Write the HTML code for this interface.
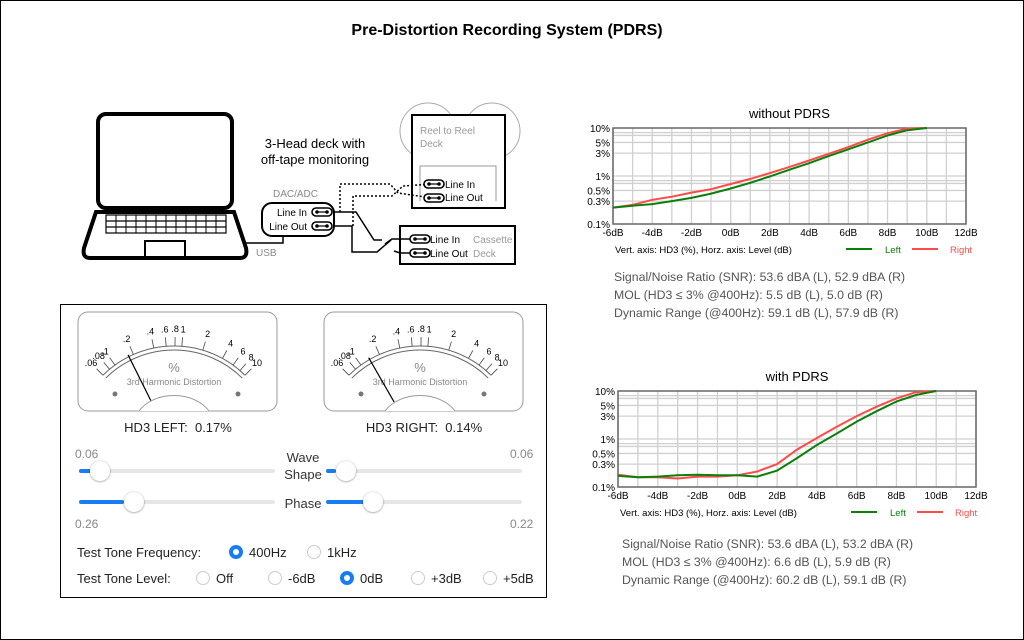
<!DOCTYPE html>
<html><head><meta charset="utf-8"><style>
*{margin:0;padding:0;box-sizing:border-box}
body{width:1024px;height:640px;overflow:hidden;background:#fff;font-family:"Liberation Sans",sans-serif;position:relative}
#frame{position:absolute;left:0;top:0;width:1024px;height:640px;border:1px solid #000}
.t{position:absolute;white-space:nowrap}
.stat{color:#555;font-size:12.3px;line-height:18px}
.panel{position:absolute;left:60px;top:304px;width:487px;height:294px;border:1px solid #000}
.track{position:absolute;height:4px;background:#e6e6e6;border-radius:2px}
.fill{position:absolute;left:0;top:0;height:4px;background:#1a7cf5;border-radius:2px}
.knob{position:absolute;width:20px;height:20px;border-radius:50%;background:#fff;box-shadow:0 0.5px 2px rgba(0,0,0,.45)}
.radio{position:absolute;width:14px;height:14px;border-radius:50%;border:1px solid #ccc;background:#fff}
.radio.on{border:4px solid #1a7cf5}
.lbl{font-size:13px;color:#222}
</style></head><body>
<div id="frame"></div>
<div class="t" style="left:0;width:1014px;top:22px;text-align:center;font-weight:bold;font-size:16px">Pre-Distortion Recording System (PDRS)</div>

<svg width="1024" height="640" style="position:absolute;left:0;top:0" id="svg">
<rect x="98" y="114" width="134" height="94" rx="8" fill="none" stroke="#000" stroke-width="4"/>
<path d="M96 212 L234 212 L246 248 Q248 258 240 258 L90 258 Q82 258 84 248 Z" fill="none" stroke="#000" stroke-width="4"/>
<g stroke="#000" stroke-width="1.2" fill="none">
<rect x="106" y="215" width="120" height="18"/>
<line x1="106" y1="221" x2="226" y2="221"/><line x1="106" y1="227" x2="226" y2="227"/>
</g>
<g id="kb" stroke="#000" stroke-width="1"></g>
<rect x="145" y="241" width="40" height="17" fill="none" stroke="#000" stroke-width="2"/>
<polyline points="245,243 283,243 283,236" fill="none" stroke="#000" stroke-width="1.5"/>
<text x="256" y="256" font-size="10" fill="#888" font-family="Liberation Sans">USB</text>
<rect x="262" y="203" width="72" height="33" rx="10" fill="none" stroke="#000" stroke-width="2"/>
<text x="273" y="197" font-size="10" fill="#888" font-family="Liberation Sans">DAC/ADC</text>
<text x="307" y="216" font-size="10" text-anchor="end" font-family="Liberation Sans">Line In</text>
<text x="307" y="230" font-size="10" text-anchor="end" font-family="Liberation Sans">Line Out</text>
<text x="315" y="148" font-size="13" text-anchor="middle" font-family="Liberation Sans">3-Head deck with</text>
<text x="315" y="164" font-size="13" text-anchor="middle" font-family="Liberation Sans">off-tape monitoring</text>
<circle cx="428" cy="131" r="28" fill="#fff" stroke="#aaa"/>
<circle cx="492" cy="131" r="28" fill="#fff" stroke="#aaa"/>
<rect x="412" y="115" width="93" height="93" fill="#fff" stroke="#000" stroke-width="2"/>
<polyline points="420,201 420,166 496,166 496,201" fill="none" stroke="#999"/>
<text x="420" y="134" font-size="10" fill="#999" font-family="Liberation Sans">Reel to Reel</text>
<text x="420" y="147" font-size="10" fill="#999" font-family="Liberation Sans">Deck</text>
<text x="445" y="188" font-size="10" font-family="Liberation Sans">Line In</text>
<text x="445" y="201" font-size="10" font-family="Liberation Sans">Line Out</text>
<rect x="400" y="226" width="115" height="38" fill="#fff" stroke="#000" stroke-width="2"/>
<text x="430" y="243" font-size="10" font-family="Liberation Sans">Line In</text>
<text x="430" y="257" font-size="10" font-family="Liberation Sans">Line Out</text>
<text x="473" y="243" font-size="10" fill="#999" font-family="Liberation Sans">Cassette</text>
<text x="473" y="257" font-size="10" fill="#999" font-family="Liberation Sans">Deck</text>
<g fill="none" stroke="#000" stroke-width="1.5">
<polyline points="333,212 356,212 374,240 382,240"/>
<polyline points="385,244 392,239 418,239"/>
<polyline points="333,226 352,226 352,252 377,252 391,240"/>
<polyline points="394,251 400,253 418,253"/>
</g>
<g fill="none" stroke="#000" stroke-width="1.5" stroke-dasharray="2,2">
<polyline points="340,212 340,184 390,184 398,193 432,198"/>
<polyline points="353,226 353,196 392,196 403,186 432,184"/>
</g>
<g id="conns"></g>
<g id="meters"></g>
<g id="charts"></g>
</svg>

<div class="t stat" style="left:614px;top:268px">Signal/Noise Ratio (SNR): 53.6 dBA (L), 52.9 dBA (R)<br>MOL (HD3 ≤ 3% @400Hz): 5.5 dB (L), 5.0 dB (R)<br>Dynamic Range (@400Hz): 59.1 dB (L), 57.9 dB (R)</div>
<div class="t stat" style="left:622px;top:535px">Signal/Noise Ratio (SNR): 53.6 dBA (L), 53.2 dBA (R)<br>MOL (HD3 ≤ 3% @400Hz): 6.6 dB (L), 5.9 dB (R)<br>Dynamic Range (@400Hz): 60.2 dB (L), 59.1 dB (R)</div>

<div class="panel"></div>
<div class="t" style="left:78px;width:200px;top:420px;text-align:center;font-size:13px;color:#222">HD3 LEFT:&nbsp; 0.17%</div>
<div class="t" style="left:324px;width:200px;top:420px;text-align:center;font-size:13px;color:#222">HD3 RIGHT:&nbsp; 0.14%</div>
<div class="t" style="left:75px;top:447px;font-size:12px;color:#888">0.06</div>
<div class="t" style="left:510px;top:447px;font-size:12px;color:#888">0.06</div>
<div class="t" style="left:75px;top:517px;font-size:12px;color:#888">0.26</div>
<div class="t" style="left:510px;top:517px;font-size:12px;color:#888">0.22</div>
<div class="t" style="left:273px;width:60px;top:449px;text-align:center;font-size:13px;color:#333;line-height:17px">Wave<br>Shape</div>
<div class="t" style="left:273px;width:60px;top:496px;text-align:center;font-size:13px;color:#333">Phase</div>

<div class="track" style="left:79px;top:469px;width:196px"><div class="fill" style="width:12px"></div></div>
<div class="knob" style="left:90px;top:461px"></div>
<div class="track" style="left:326px;top:469px;width:196px"><div class="fill" style="width:10px"></div></div>
<div class="knob" style="left:336px;top:461px"></div>
<div class="track" style="left:79px;top:500px;width:196px"><div class="fill" style="width:45px"></div></div>
<div class="knob" style="left:124px;top:492px"></div>
<div class="track" style="left:326px;top:500px;width:196px"><div class="fill" style="width:40px"></div></div>
<div class="knob" style="left:363px;top:492px"></div>

<div class="t lbl" style="left:77px;top:545px">Test Tone Frequency:</div>
<div class="radio on" style="left:229px;top:545px"></div><div class="t lbl" style="left:249px;top:545px">400Hz</div>
<div class="radio" style="left:307px;top:545px"></div><div class="t lbl" style="left:327px;top:545px">1kHz</div>
<div class="t lbl" style="left:77px;top:571px">Test Tone Level:</div>
<div class="radio" style="left:196px;top:571px"></div><div class="t lbl" style="left:216px;top:571px">Off</div>
<div class="radio" style="left:268px;top:571px"></div><div class="t lbl" style="left:288px;top:571px">-6dB</div>
<div class="radio on" style="left:340px;top:571px"></div><div class="t lbl" style="left:360px;top:571px">0dB</div>
<div class="radio" style="left:411px;top:571px"></div><div class="t lbl" style="left:431px;top:571px">+3dB</div>
<div class="radio" style="left:483px;top:571px"></div><div class="t lbl" style="left:503px;top:571px">+5dB</div>

<script>
var NS="http://www.w3.org/2000/svg";
function el(p,t,a,txt){var e=document.createElementNS(NS,t);for(var k in a)e.setAttribute(k,a[k]);if(txt!==undefined)e.textContent=txt;p.appendChild(e);return e;}
var kb=document.getElementById('kb');
for(var x=116;x<226;x+=10)el(kb,'line',{x1:x,y1:215,x2:x,y2:233});
var cn=document.getElementById('conns');
[[322,212],[322,226],[434,184],[434,198],[420,239],[420,253]].forEach(function(c){
 el(cn,'rect',{x:c[0]-10,y:c[1]-4,width:20,height:8,rx:4,fill:'#fff',stroke:'#000','stroke-width':1.6});
 el(cn,'circle',{cx:c[0]-5,cy:c[1],r:1.8});el(cn,'circle',{cx:c[0]+5,cy:c[1],r:1.8});
 el(cn,'line',{x1:c[0]-5,y1:c[1],x2:c[0]+5,y2:c[1],stroke:'#000','stroke-width':1.2});
});
var mg=document.getElementById('meters');
function meter(ox,val){
 el(mg,'rect',{x:ox,y:312,width:199,height:99,rx:10,fill:'#fff',stroke:'#999'});
 var cx=ox+96,cy=447,R=101,half=44.7*Math.PI/180;
 function ang(v){return -half+(Math.log10(v)-Math.log10(0.06))/(Math.log10(10)-Math.log10(0.06))*2*half;}
 function pt(a,r){return [cx+r*Math.sin(a),cy-r*Math.cos(a)];}
 [R,R-4].forEach(function(r){var a=pt(-half,r),b=pt(half,r);el(mg,'path',{d:'M'+a+' A'+r+' '+r+' 0 0 1 '+b,fill:'none',stroke:'#666','stroke-width':1});});
 [[.06,'.06'],[.08,'.08'],[.1,'.1'],[.2,'.2'],[.4,'.4'],[.6,'.6'],[.8,'.8'],[1,'1'],[2,'2'],[4,'4'],[6,'6'],[8,'8'],[10,'10']].forEach(function(t){
  var a=ang(t[0]),p1=pt(a,R),p2=pt(a,R+9),p3=pt(a,R+17);
  el(mg,'line',{x1:p1[0],y1:p1[1],x2:p2[0],y2:p2[1],stroke:'#444','stroke-width':0.8});
  el(mg,'text',{x:p3[0],y:p3[1]+3,'font-size':9,'text-anchor':'middle','font-family':'Liberation Sans'},t[1]);
 });
 el(mg,'text',{x:cx,y:372,'font-size':13,fill:'#888','text-anchor':'middle','font-family':'Liberation Sans'},'%');
 el(mg,'text',{x:cx,y:385,'font-size':9,fill:'#888','text-anchor':'middle','font-family':'Liberation Sans'},'3rd Harmonic Distortion');
 el(mg,'circle',{cx:ox+37,cy:394,r:2.5,fill:'#777'});el(mg,'circle',{cx:ox+160,cy:394,r:2.5,fill:'#777'});
 el(mg,'path',{d:'M'+(cx-35)+' 411 A40 30 0 0 1 '+(cx+35)+' 411',fill:'#fff',stroke:'#999'});
 var a=ang(val),p=pt(a,R+2),q=pt(a,52);
 el(mg,'line',{x1:p[0],y1:p[1],x2:q[0],y2:q[1],stroke:'#000','stroke-width':1.2});
}
meter(78,0.17);meter(324,0.14);
var cg=document.getElementById('charts');
function chart(L,T,Rt,B,title,left,right){
 var W=Rt-L,H=B-T;
 function X(d){return L+(d+6)/18*W;} function Y(v){return T+(1-Math.log10(v/0.1)/2)*H;}
 el(cg,'text',{x:(L+Rt)/2,y:T-10,'font-size':13,'text-anchor':'middle','font-family':'Liberation Sans'},title);
 for(var d=-6;d<=12;d++)el(cg,'line',{x1:X(d),y1:T,x2:X(d),y2:B,stroke:'#d0d0d0','stroke-width':1.3});
 [0.3,0.5,0.7,0.8,1,3,5,7,8].forEach(function(v){el(cg,'line',{x1:L,y1:Y(v),x2:Rt,y2:Y(v),stroke:'#d0d0d0','stroke-width':1.3});});
 el(cg,'rect',{x:L,y:T,width:W,height:H,fill:'none',stroke:'#666','stroke-width':1.5});
 [[10,'10%'],[5,'5%'],[3,'3%'],[1,'1%'],[0.5,'0.5%'],[0.3,'0.3%'],[0.1,'0.1%']].forEach(function(t){el(cg,'text',{x:L-3,y:Y(t[0])+4,'font-size':10,'text-anchor':'end','font-family':'Liberation Sans'},t[1]);});
 for(var d=-6;d<=12;d+=2)el(cg,'text',{x:X(d),y:B+12,'font-size':10,'text-anchor':'middle','font-family':'Liberation Sans'},d+'dB');
 function line(data,col){var s='';data.forEach(function(v,i){s+=(i?' L':'M')+X(i-6).toFixed(1)+' '+Y(v).toFixed(1);});el(cg,'path',{d:s,fill:'none',stroke:col,'stroke-width':2});}
 line(right,'#ff4a4a');line(left,'#0a800a');
 el(cg,'text',{x:L+2,y:B+29,'font-size':9.5,'font-family':'Liberation Sans'},'Vert. axis: HD3 (%),  Horz. axis: Level (dB)');
 el(cg,'line',{x1:L+233,y1:B+25,x2:L+259,y2:B+25,stroke:'#0a800a','stroke-width':2});
 el(cg,'text',{x:L+272,y:B+29,'font-size':9.5,fill:'#0a800a','font-family':'Liberation Sans'},'Left');
 el(cg,'line',{x1:L+299,y1:B+25,x2:L+325,y2:B+25,stroke:'#ff4a4a','stroke-width':2});
 el(cg,'text',{x:L+337,y:B+29,'font-size':9.5,fill:'#ff4a4a','font-family':'Liberation Sans'},'Right');
}
chart(613,128,966,224,'without PDRS',
 [0.22,0.24,0.26,0.3,0.35,0.43,0.55,0.72,0.98,1.35,1.85,2.6,3.6,5,7,9,10],
 [0.22,0.25,0.32,0.37,0.45,0.53,0.68,0.87,1.15,1.55,2.1,2.9,4.0,5.7,7.8,9.7,10]);
chart(618,391,976,487,'with PDRS',
 [0.17,0.16,0.165,0.175,0.18,0.175,0.175,0.165,0.22,0.4,0.75,1.3,2.3,3.8,6,8.3,10],
 [0.18,0.16,0.16,0.15,0.165,0.165,0.175,0.21,0.3,0.6,1.05,1.8,3.0,4.7,7,9.5,10]);
</script>
</body></html>
